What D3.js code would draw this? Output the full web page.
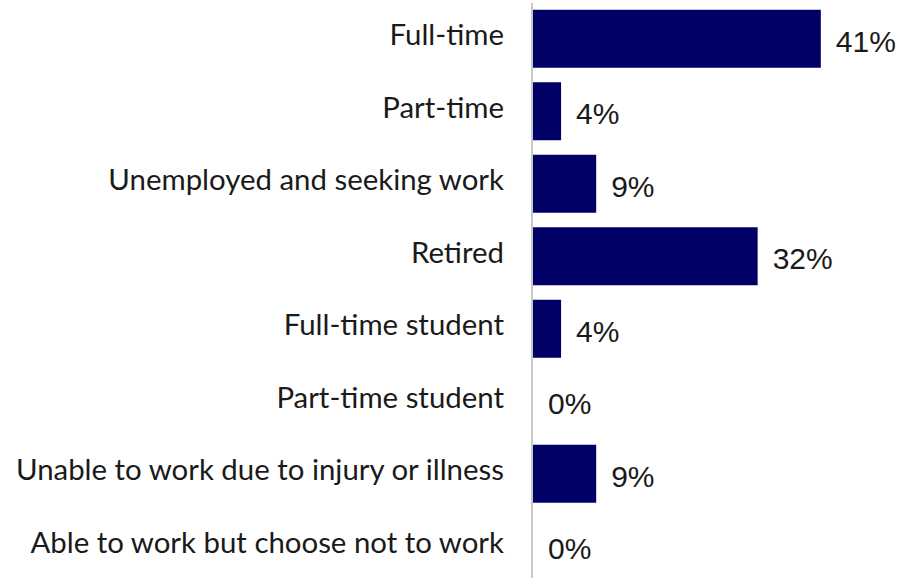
<!DOCTYPE html>
<html>
<head>
<meta charset="utf-8">
<script src="https://cdn.jsdelivr.net/npm/d3@7/dist/d3.min.js"></script>
<style>
  html, body { margin: 0; padding: 0; background: #ffffff; }
  svg { display: block; }
</style>
</head>
<body>
<svg id="chart" width="905" height="578"></svg>
<script>
const categories = [
  "Full-time",
  "Part-time",
  "Unemployed and seeking work",
  "Retired",
  "Full-time student",
  "Part-time student",
  "Unable to work due to injury or illness",
  "Able to work but choose not to work"
];
const values = [41, 4, 9, 32, 4, 0, 9, 0];
const valueLabels = ["41%", "4%", "9%", "32%", "4%", "0%", "9%", "0%"];

const data = categories.map((c, i) => ({ cat: c, val: values[i], label: valueLabels[i] }));

const svg = d3.select("#chart");
const axisX = 533;

const x = d3.scaleLinear().domain([0, 50]).range([axisX, axisX + 351]);
const y = d3.scaleBand().domain(categories).range([2.5, 582.5]).paddingInner(0.2).paddingOuter(0.1);

// bars
svg.append("g").selectAll("rect").data(data).join("rect")
  .attr("x", x(0))
  .attr("y", d => y(d.cat))
  .attr("width", d => x(d.val) - x(0))
  .attr("height", y.bandwidth())
  .attr("fill", "#000066");

// axis line
svg.append("line")
  .attr("x1", axisX - 1).attr("x2", axisX - 1)
  .attr("y1", 3).attr("y2", 578)
  .attr("stroke", "#c8c8c8").attr("stroke-width", 2);

// category labels
svg.append("g").selectAll("text").data(data).join("text")
  .attr("x", 504)
  .attr("y", d => y(d.cat) + y.bandwidth() / 2 - 4)
  .attr("dy", "0.35em")
  .attr("text-anchor", "end")
  .attr("font-family", "Lato, sans-serif")
  .attr("font-size", 29.4)
  .attr("font-weight", 400)
  .attr("fill", "#1a1a1a")
  .text(d => d.cat);

// value labels
svg.append("g").selectAll("text").data(data).join("text")
  .attr("x", d => x(d.val) + 15)
  .attr("y", d => y(d.cat) + y.bandwidth() / 2 + 2)
  .attr("dy", "0.36em")
  .attr("font-family", "Arial, 'Liberation Sans', sans-serif")
  .attr("font-size", 30)
  .attr("fill", "#1a1a1a")
  .text(d => d.label);
</script>
</body>
</html>
